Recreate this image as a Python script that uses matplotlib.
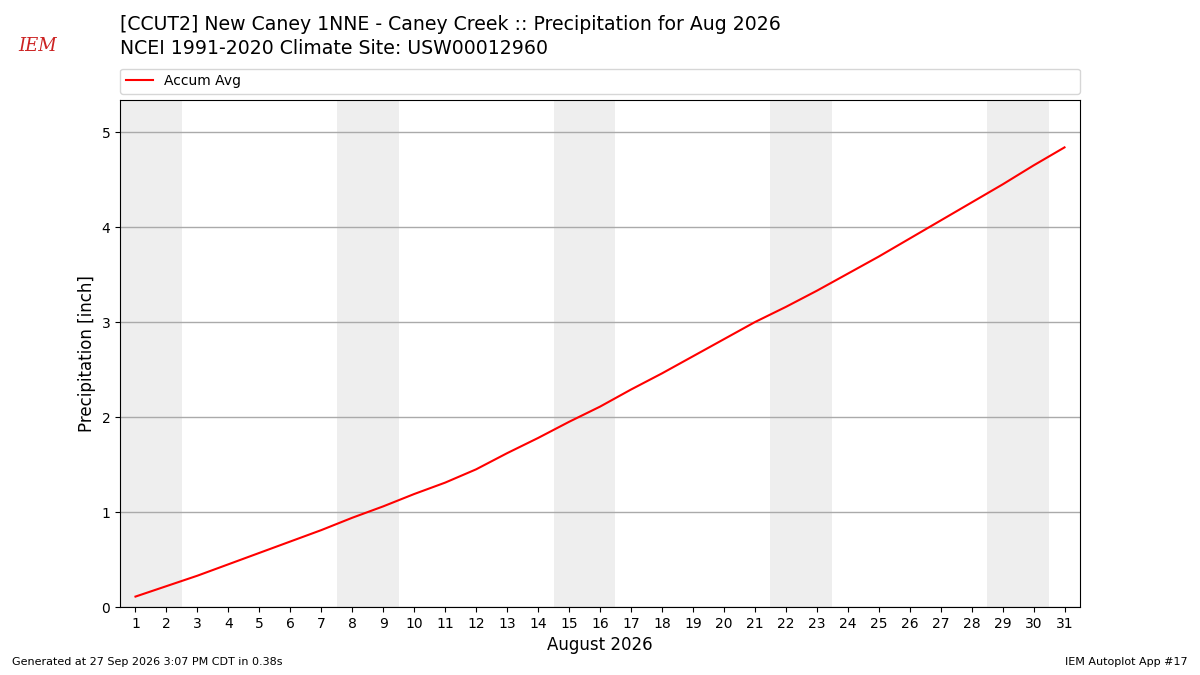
import numpy as np
from matplotlib import pyplot as plt

days = list(range(1, 32))
accum_avg = [0.11, 0.22, 0.33, 0.45, 0.57, 0.69, 0.81, 0.94, 1.06, 1.19,
             1.31, 1.45, 1.62, 1.78, 1.95, 2.11, 2.29, 2.46, 2.64, 2.82,
             3.00, 3.16, 3.33, 3.51, 3.69, 3.88, 4.07, 4.26, 4.45, 4.65, 4.84]
weekend_starts = [1, 8, 15, 22, 29]

fig = plt.figure(figsize=(12, 6.75), dpi=100)
ax = fig.add_axes([0.1, 0.1007, 0.8, 0.7513])

for d in weekend_starts:
    ax.axvspan(d - 0.5, d + 1.5, color="#eeeeee", zorder=0, lw=0)

ax.plot(days, accum_avg, color="r", lw=1.5, label="Accum Avg", zorder=3)

ax.set_xlim(0.5, 31.5)
ax.set_ylim(0, 5.34)
ax.set_xticks(days)
ax.set_xticklabels([str(d) for d in days])
ax.set_yticks([0, 1, 2, 3, 4, 5])
ax.grid(axis="y", color="#aaaaaa", lw=1, zorder=1)
ax.set_axisbelow(True)
ax.tick_params(labelsize=10)
ax.set_xlabel("August 2026", fontsize=12)
ax.set_ylabel("Precipitation [inch]", fontsize=12)

ax.legend(loc="lower left", bbox_to_anchor=(0, 1.012, 1, 0.05), mode="expand",
          ncol=1, fontsize=10, borderaxespad=0)

fig.text(0.1, 0.963, "[CCUT2] New Caney 1NNE - Caney Creek :: Precipitation for Aug 2026",
         fontsize=13.6, va="center")
fig.text(0.1, 0.928, "NCEI 1991-2020 Climate Site: USW00012960", fontsize=13.6, va="center")

fig.text(0.01, 0.015, "Generated at 27 Sep 2026 3:07 PM CDT in 0.38s", fontsize=8)
fig.text(0.99, 0.015, "IEM Autoplot App #17", fontsize=8, ha="right")

# crude stand-in for the IEM logo
fig.text(0.031, 0.932, "IEM", color="#cc2222", fontsize=13, family="DejaVu Serif",
         style="italic", ha="center", va="center")

fig.savefig("out.png")
